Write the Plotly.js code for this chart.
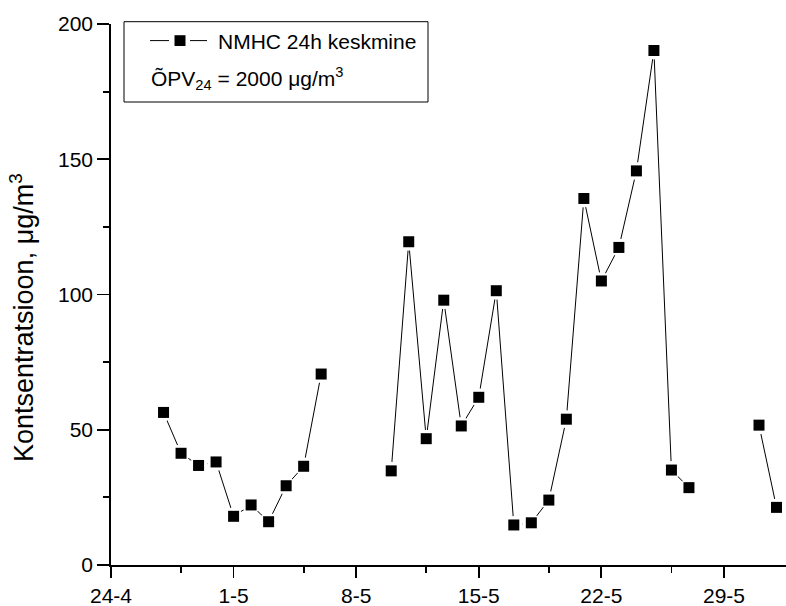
<!DOCTYPE html>
<html>
<head>
<meta charset="utf-8">
<script src="https://cdn.plot.ly/plotly-3.0.1.min.js"></script>
<style>
  html, body { margin: 0; padding: 0; background: #ffffff; }
  #chart { width: 786px; height: 606px; }
</style>
</head>
<body>
<div id="chart"></div>
<script>
// ---- Data (daily NMHC 24h means, µg/m3) ----
const dates = [
  '2004-04-27','2004-04-28','2004-04-29','2004-04-30','2004-05-01','2004-05-02','2004-05-03',
  '2004-05-04','2004-05-05','2004-05-06','2004-05-07','2004-05-08','2004-05-09','2004-05-10',
  '2004-05-11','2004-05-12','2004-05-13','2004-05-14','2004-05-15','2004-05-16','2004-05-17',
  '2004-05-18','2004-05-19','2004-05-20','2004-05-21','2004-05-22','2004-05-23','2004-05-24',
  '2004-05-25','2004-05-26','2004-05-27','2004-05-28','2004-05-29','2004-05-30','2004-05-31',
  '2004-06-01'
];
const nmhc = [
  56.4, 41.3, 36.8, 38.1, 18.0, 22.2, 16.0,
  29.3, 36.5, 70.6, null, null, null, 34.8,
  119.5, 46.7, 97.9, 51.4, 62.0, 101.4, 14.8,
  15.6, 24.0, 53.9, 135.5, 105.0, 117.4, 145.7,
  190.2, 35.1, 28.6, null, null, null, 51.7,
  21.3
];
const seriesName = 'NMHC 24h keskmine';
const limitText = 'ÕPV<sub>24</sub> = 2000 μg/m<sup>3</sup>';
const yTitle = 'Kontsentratsioon, μg/m<sup>3</sup>';
const xTickVals = ['2004-04-24','2004-05-01','2004-05-08','2004-05-15','2004-05-22','2004-05-29'];
const xTickText = ['24-4','1-5','8-5','15-5','22-5','29-5'];
const xMinorVals = ['2004-04-28','2004-05-05','2004-05-12','2004-05-19','2004-05-26'];
const yTickVals = [0, 50, 100, 150, 200];

// ---- Plot geometry helpers (pixels -> paper) ----
const W = 786, H = 606;
const M = { l: 111, r: 0, t: 24, b: 41 };
const PW = W - M.l - M.r, PH = H - M.t - M.b;
const px = x => (x - M.l) / PW;
const py = y => (H - M.b - y) / PH;

const FONT = '"Liberation Sans", Arial, Helvetica, sans-serif';

const traces = [
  { // connecting line
    x: dates, y: nmhc, type: 'scatter', mode: 'lines',
    line: { color: '#000000', width: 1 },
    connectgaps: false, hoverinfo: 'skip', showlegend: false
  },
  { // white halo (gap around symbols, as in the original)
    x: dates, y: nmhc, type: 'scatter', mode: 'markers',
    marker: { symbol: 'circle', size: 18, color: '#ffffff', line: { width: 0 } },
    hoverinfo: 'skip', showlegend: false
  },
  { // square symbols
    x: dates, y: nmhc, type: 'scatter', mode: 'markers', name: seriesName,
    marker: { symbol: 'square', size: 11, color: '#000000', line: { width: 0 } },
    showlegend: false
  }
];

const layout = {
  width: W, height: H,
  margin: M,
  paper_bgcolor: '#ffffff', plot_bgcolor: '#ffffff',
  font: { family: FONT, color: '#000000', size: 21 },
  showlegend: false,
  xaxis: {
    type: 'date',
    range: ['2004-04-24 00:00', '2004-06-01 13:00'],
    tickmode: 'array', tickvals: xTickVals, ticktext: xTickText,
    ticks: 'outside', ticklen: 11, tickwidth: 1.8, tickcolor: '#000000',
    minor: { tickmode: 'array', tickvals: xMinorVals, ticks: 'outside', ticklen: 6, tickwidth: 1.8, tickcolor: '#000000', showgrid: false },
    showline: true, linecolor: '#000000', linewidth: 1.8,
    showgrid: false, zeroline: false,
    tickfont: { family: FONT, size: 21, color: '#000000' },
    ticklabelstandoff: 0
  },
  yaxis: {
    range: [0, 200],
    tickmode: 'array', tickvals: yTickVals,
    ticks: 'outside', ticklen: 12, tickwidth: 1.8, tickcolor: '#000000',
    minor: { dtick: 25, ticks: 'outside', ticklen: 6, tickwidth: 1.8, tickcolor: '#000000', showgrid: false },
    showline: true, linecolor: '#000000', linewidth: 1.8,
    showgrid: false, zeroline: false,
    tickfont: { family: FONT, size: 21, color: '#000000' },
    ticklabelstandoff: 0
  },
  shapes: [
    { type: 'rect', xref: 'paper', yref: 'paper',
      x0: px(124), x1: px(428), y0: py(102), y1: py(21.7),
      line: { color: '#000000', width: 1 }, fillcolor: 'rgba(0,0,0,0)' },
    { type: 'line', xref: 'paper', yref: 'paper',
      x0: px(150), x1: px(169), y0: py(40.6), y1: py(40.6),
      line: { color: '#000000', width: 1 } },
    { type: 'line', xref: 'paper', yref: 'paper',
      x0: px(190), x1: px(207), y0: py(40.6), y1: py(40.6),
      line: { color: '#000000', width: 1 } },
    { type: 'rect', xref: 'paper', yref: 'paper',
      x0: px(174.5), x1: px(185.5), y0: py(46), y1: py(35.2),
      line: { width: 0 }, fillcolor: '#000000' }
  ],
  annotations: [
    { xref: 'paper', yref: 'paper', x: px(216), y: py(42), xanchor: 'left', yanchor: 'middle',
      text: seriesName, showarrow: false, font: { family: FONT, size: 21, color: '#000000' } },
    { xref: 'paper', yref: 'paper', x: px(149), y: py(78), xanchor: 'left', yanchor: 'middle',
      text: limitText, showarrow: false, font: { family: FONT, size: 21, color: '#000000' } },
    { xref: 'paper', yref: 'paper', x: px(22), y: py(318), xanchor: 'center', yanchor: 'middle',
      textangle: -90, text: yTitle, showarrow: false, font: { family: FONT, size: 27, color: '#000000' } }
  ]
};

Plotly.newPlot('chart', traces, layout, { displayModeBar: false, staticPlot: true });
</script>
</body>
</html>
